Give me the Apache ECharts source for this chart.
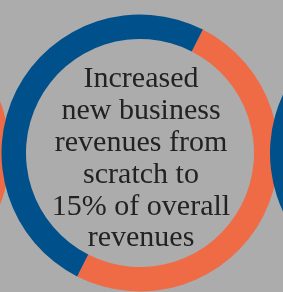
<!DOCTYPE html>
<html>
<head>
<meta charset="utf-8">
<script src="https://cdn.jsdelivr.net/npm/echarts@6/dist/echarts.min.js"></script>
<style>
    html, body { margin: 0; padding: 0; background: #acacac; }
    #chart { width: 283px; height: 292px; }
</style>
</head>
<body>
<div id="chart"></div>
<script>
// ring slices (orange first, then blue)
var sliceNames = ['New business', 'Other'];
var sliceValues = [50, 50];
var sliceColors = ['#ef6b46', '#00508b'];
var textLines = ['Increased', 'new business', 'revenues from', 'scratch to', '15% of overall', 'revenues'];

var chartDom = document.getElementById('chart');
var myChart = echarts.init(chartDom);
var option;

function ring(cx) {
    return {
        type: 'pie',
        silent: true,
        center: [cx, 153],
        radius: [114, 138.5],
        startAngle: 63,
        clockwise: true,
        label: { show: false },
        labelLine: { show: false },
        data: sliceNames.map(function (n, i) {
            return { name: n, value: sliceValues[i], itemStyle: { color: sliceColors[i] } };
        })
    };
}

option = {
    backgroundColor: '#acacac',
    animation: false,
    series: [ring(-128.5), ring(140), ring(408.5)],
    graphic: [{
        type: 'text',
        x: 141,
        y: 159,
        style: {
            text: textLines.join('\n'),
            font: '30px "Liberation Serif"',
            lineHeight: 31.8,
            fill: '#222222',
            align: 'center',
            verticalAlign: 'middle'
        }
    }]
};
option && myChart.setOption(option);
</script>
</body>
</html>
